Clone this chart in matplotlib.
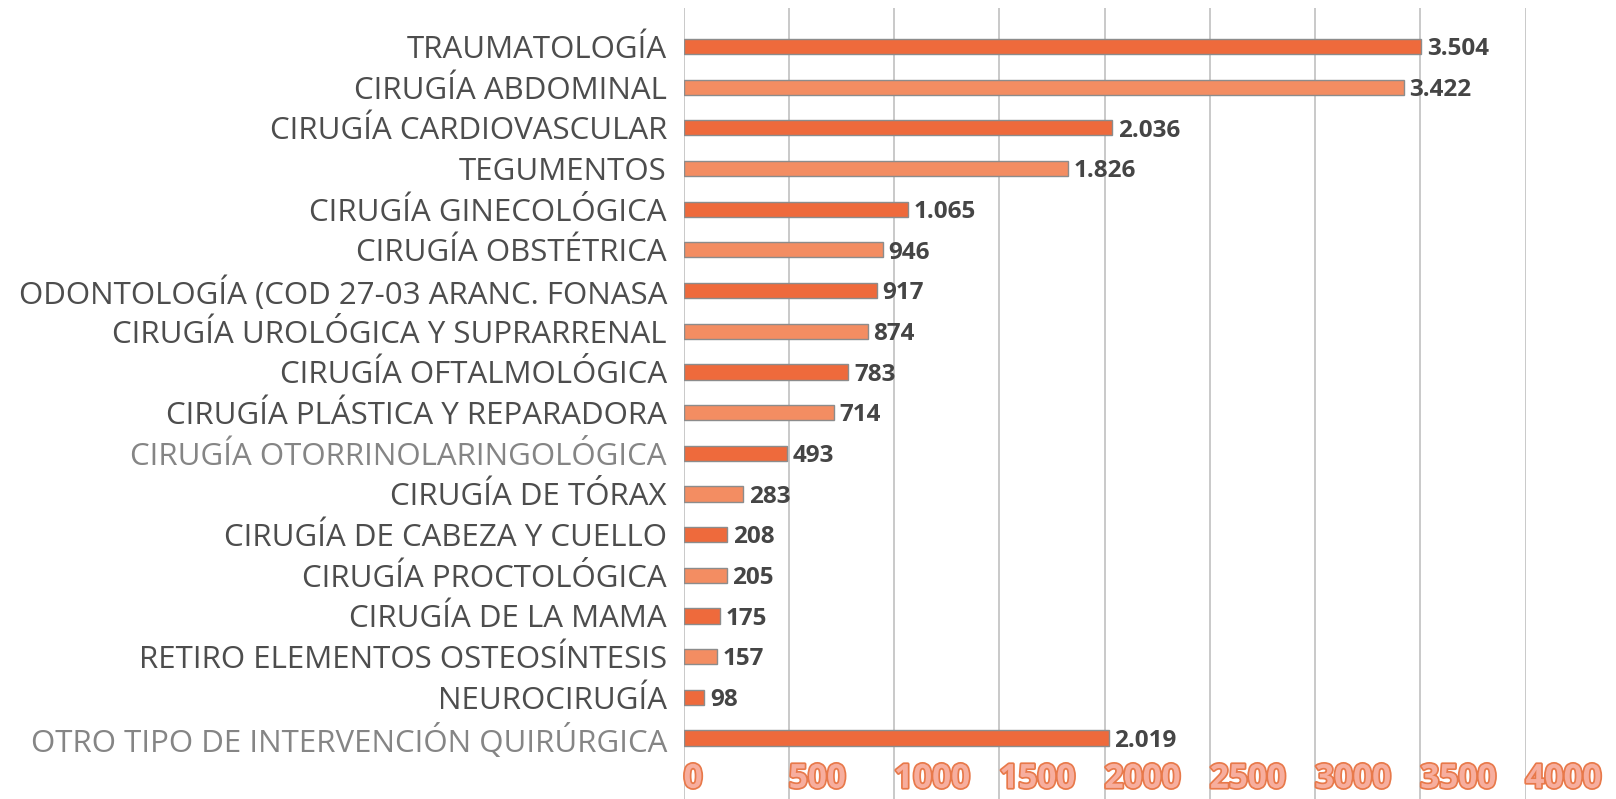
import numpy as np
import matplotlib
matplotlib.use("Agg")
import matplotlib.pyplot as plt
import matplotlib.patheffects as pe

# categories, top to bottom
categorias = [
    "TRAUMATOLOGÍA",
    "CIRUGÍA ABDOMINAL",
    "CIRUGÍA CARDIOVASCULAR",
    "TEGUMENTOS",
    "CIRUGÍA GINECOLÓGICA",
    "CIRUGÍA OBSTÉTRICA",
    "ODONTOLOGÍA (COD 27-03 ARANC. FONASA",
    "CIRUGÍA UROLÓGICA Y SUPRARRENAL",
    "CIRUGÍA OFTALMOLÓGICA",
    "CIRUGÍA PLÁSTICA Y REPARADORA",
    "CIRUGÍA OTORRINOLARINGOLÓGICA",
    "CIRUGÍA DE TÓRAX",
    "CIRUGÍA DE CABEZA Y CUELLO",
    "CIRUGÍA PROCTOLÓGICA",
    "CIRUGÍA DE LA MAMA",
    "RETIRO ELEMENTOS OSTEOSÍNTESIS",
    "NEUROCIRUGÍA",
    "OTRO TIPO DE INTERVENCIÓN QUIRÚRGICA",
]
valores = [3504, 3422, 2036, 1826, 1065, 946, 917, 874, 783, 714,
           493, 283, 208, 205, 175, 157, 98, 2019]
ticks_x = [0, 500, 1000, 1500, 2000, 2500, 3000, 3500, 4000]
etiquetas_claras = ["CIRUGÍA OTORRINOLARINGOLÓGICA",
                    "OTRO TIPO DE INTERVENCIÓN QUIRÚRGICA"]

fig = plt.figure(figsize=(16.16, 7.99), dpi=100)
ax = fig.add_axes([0.423, 0.0, 0.521, 0.99])

n = len(categorias)
y = np.arange(n)
colores = ["#EE6A3C" if i % 2 == 0 else "#F38D62" for i in range(n)]
colores[-1] = "#EE6A3C"
ax.barh(y, valores, height=0.37, color=colores, edgecolor="#8c8c8c",
        linewidth=1.0, zorder=3)

for yi, v in zip(y, valores):
    txt = f"{v:,}".replace(",", ".")
    ax.annotate(txt, (v, yi), xytext=(4, -2), textcoords="offset points",
                va="center", ha="left", fontsize=17.5, fontweight="bold",
                color="#454545", family="Open Sans", zorder=4)

ax.set_yticks(y)
ax.set_yticklabels(categorias, family="Open Sans", fontsize=22.5)
for lab in ax.get_yticklabels():
    if lab.get_text() in etiquetas_claras:
        lab.set_color("#858585")
    else:
        lab.set_color("#4d4d4d")
ax.tick_params(axis="y", length=0, pad=12)

ax.set_xlim(0, 4000)
ax.set_ylim(n + 0.5, -0.95)
ax.set_xticks(ticks_x)
ax.set_xticklabels([str(t) for t in ticks_x], family="Open Sans",
                   fontsize=24, fontweight="bold", color="#F7AE9E")
for lab in ax.get_xticklabels():
    lab.set_horizontalalignment("left")
    lab.set_path_effects([pe.withStroke(linewidth=2.5, foreground="#E8794A")])
ax.tick_params(axis="x", length=0, pad=-26)
ax.grid(axis="x", color="#c0c0c0", linewidth=1.2, zorder=0)

for s in ax.spines.values():
    s.set_visible(False)

fig.savefig("out.png", dpi=100)
